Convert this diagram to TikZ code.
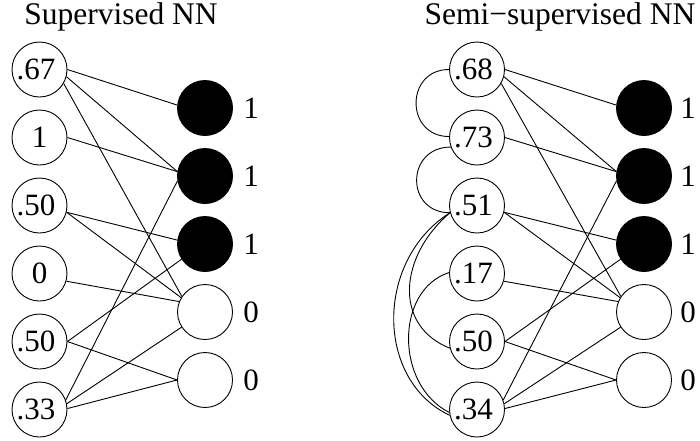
\documentclass[tikz,border=0pt]{standalone}
\usepackage{fontspec}
\setmainfont{Liberation Serif}
\begin{document}
\begin{tikzpicture}[x=1pt,y=-1pt,
  inp/.style={circle, draw, line width=0.9pt, minimum size=55pt, inner sep=0pt, font=\fontsize{31}{31}\selectfont},
  outp/.style={circle, draw, line width=0.9pt, minimum size=55pt, inner sep=0pt},
  on/.style={outp, fill=black},
  off/.style={outp, fill=white},
  lab/.style={font=\fontsize{31}{31}\selectfont},
  ttl/.style={font=\fontsize{31.5}{31.5}\selectfont},
  edge/.style={line width=0.9pt}]
\useasboundingbox (0,0) rectangle (700,440);
% titles
\node[ttl] (t1) at (121,17) {Supervised NN};
\node[ttl] (t2) at (560,17) {Semi\char"2212 supervised NN};
% left panel
\node[inp] (a1) at (39.5,69.5) {\kern-7pt.67};
\node[inp] (a2) at (39.5,137.5) {1};
\node[inp] (a3) at (39.5,205.5) {\kern-7pt.50};
\node[inp] (a4) at (39.5,273.5) {0};
\node[inp] (a5) at (39.5,341.5) {\kern-7pt.50};
\node[inp] (a6) at (39.5,409.5) {\kern-7pt.33};
\node[on] (b1) at (205,108) {};
\node[on] (b2) at (205,176) {};
\node[on] (b3) at (205,244) {};
\node[off] (b4) at (205,312) {};
\node[off] (b5) at (205,380) {};
\node[lab] (lb1) at (251,108) {1};
\node[lab] (lb2) at (251,176) {1};
\node[lab] (lb3) at (251,244) {1};
\node[lab] (lb4) at (251,312) {0};
\node[lab] (lb5) at (251,380) {0};
\draw[edge] (a1.0) -- (b1.174);
\draw[edge] (a1.-15) -- (b2.171);
\draw[edge] (a1.-30) -- (b4.146);
\draw[edge] (a2.0) -- (b2.171);
\draw[edge] (a3.-14) -- (b3.172);
\draw[edge] (a3.-14) -- (b4.149);
\draw[edge] (a4.-16) -- (b4.158);
\draw[edge] (a5.0) -- (b3.213);
\draw[edge] (a5.0) -- (b5.180);
\draw[edge] (a6.20) -- (b2.190);
\draw[edge] (a6.12) -- (b4.213);
\draw[edge] (a6.2) -- (b5.180);
% right panel
\node[inp] (c1) at (477,69.5) {\kern-7pt.68};
\node[inp] (c2) at (477,137.5) {\kern-7pt.73};
\node[inp] (c3) at (477,205.5) {\kern-7pt.51};
\node[inp] (c4) at (477,273.5) {\kern-7pt.17};
\node[inp] (c5) at (477,341.5) {\kern-7pt.50};
\node[inp] (c6) at (477,409.5) {\kern-7pt.34};
\node[on] (d1) at (644,108) {};
\node[on] (d2) at (644,176) {};
\node[on] (d3) at (644,244) {};
\node[off] (d4) at (644,312) {};
\node[off] (d5) at (644,380) {};
\node[lab] (ld1) at (688,108) {1};
\node[lab] (ld2) at (688,176) {1};
\node[lab] (ld3) at (688,244) {1};
\node[lab] (ld4) at (688,312) {0};
\node[lab] (ld5) at (688,380) {0};
\draw[edge] (c1.0) -- (d1.174);
\draw[edge] (c1.-15) -- (d2.171);
\draw[edge] (c1.-30) -- (d4.146);
\draw[edge] (c2.0) -- (d2.171);
\draw[edge] (c3.-14) -- (d3.172);
\draw[edge] (c3.-14) -- (d4.149);
\draw[edge] (c4.-16) -- (d4.158);
\draw[edge] (c5.0) -- (d3.213);
\draw[edge] (c5.0) -- (d5.180);
\draw[edge] (c6.20) -- (d2.190);
\draw[edge] (c6.12) -- (d4.213);
\draw[edge] (c6.2) -- (d5.180);
% curves
\draw[edge] (c1.180) .. controls +(-44,0) and +(-44,0) .. (c2.178);
\draw[edge] (c2.200) .. controls +(-45,0) and +(-45,0) .. (c3.195);
\draw[edge] (c3.195) .. controls (400,255) and (392,325) .. (c5.194);
\draw[edge] (c3.195) .. controls (375,260) and (375,380) .. (c6.192);
\draw[edge] (c4.178) .. controls (395,290) and (395,385) .. (c6.186);
\end{tikzpicture}
\end{document}
